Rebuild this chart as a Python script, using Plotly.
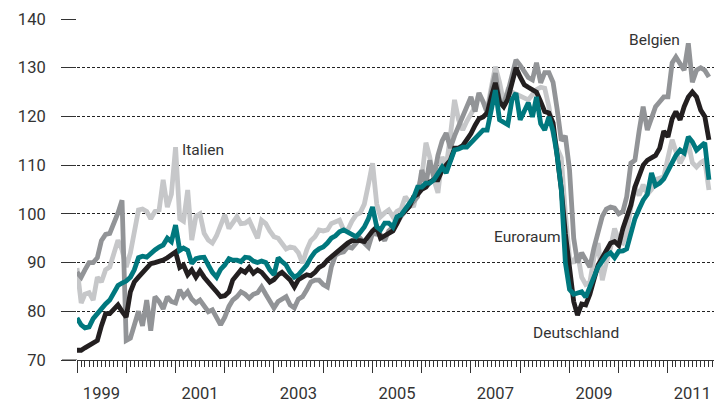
import pandas as pd
import plotly.graph_objects as go

# monthly index values, Jan 1999 - Nov 2011
months = pd.date_range("1999-01-01", periods=155, freq="MS")

deutschland = [
    72, 72, 72.5, 73, 73.5, 74, 77, 79.5, 79.5, 80.5, 81.3, 80,
    78.8, 84, 86, 87, 88, 89, 89.8, 90, 90.2, 90.5, 91, 91.5,
    92.2, 89, 89.5, 87.5, 88.5, 87, 88.3, 87, 85.8, 85, 84, 83,
    83.2, 84, 86.4, 87.5, 88.5, 88, 89, 87.8, 88.5, 88, 87, 86,
    86.5, 87.5, 88, 87, 86.4, 85, 86.5, 87, 87.5, 87.3, 88, 89,
    89.5, 90.5, 91.2, 92, 92.5, 93.5, 94, 94.5, 94.6, 94.5, 94.3, 95.5,
    96.5, 97.3, 95, 95.5, 96, 96.5, 98, 99.8, 100.6, 101.5, 103.5, 104,
    105, 105.5, 106.5, 107, 107, 109, 110, 111, 113.5, 113.5, 114, 115.2,
    116.5, 118.2, 119.5, 119.9, 120.7, 124, 126.9, 123, 122, 123.5, 127, 130,
    128.1, 126.5, 126, 125.5, 125, 123, 121, 120.7, 118.7, 112, 105, 96,
    89, 82, 79.2, 81.5, 81.3, 83.5, 86.5, 89.5, 91, 92.5, 94, 94.3,
    93.5, 97, 99.5, 101.8, 105.5, 108, 110, 111, 111.5, 112, 113.5, 117,
    115.8, 119.5, 121, 119.3, 122, 124, 125, 124, 121.3, 120, 115.2,
]

euroraum = [
    78.6, 77.2, 76.6, 76.8, 78.5, 79.6, 80.8, 81.5, 82.3, 84, 85.3, 85.8,
    86.2, 87, 88.5, 91, 91.3, 91.1, 92, 92.6, 93.2, 93.6, 95, 94.3,
    97.7, 92.5, 93, 92.5, 89.8, 90.8, 91, 91.1, 89.5, 88, 87, 88.6,
    89.5, 90.8, 90.5, 90.5, 90.2, 91.1, 91, 90.3, 90, 90.3, 90, 88.5,
    87.5, 91, 90.2, 89.5, 88, 87, 87.5, 88.5, 89.5, 91, 92.2, 92.8,
    93.2, 94, 95, 95.5, 96.3, 96.7, 96.2, 95.8, 95.3, 96.2, 97.3, 99,
    101.4, 97.3, 96.7, 98.1, 98.1, 97.3, 99.4, 99.8, 101, 102.5, 103.3, 105.5,
    105.5, 106.3, 106.3, 107, 108.5, 109.6, 108.4, 110.5, 113.1, 113.3, 113.7, 113.7,
    114.6, 115.5, 116.3, 117.2, 117.2, 121, 125.4, 119.3, 118.8, 118.3, 123.4, 124.8,
    119.3, 121, 122.8, 119.9, 124, 118.5, 117.2, 119.9, 117, 112, 105, 90,
    84.5, 83.5, 83.7, 84, 82.9, 85, 87.5, 89.1, 90.3, 91.5, 92, 91,
    92.3, 92.4, 92.8, 96, 99, 101, 102.8, 104, 108.4, 105.8, 106.3, 107.2,
    109, 110.5, 112, 113.1, 112.5, 115.8, 114.8, 113.1, 114, 114.6, 107,
]

belgien = [
    88, 87, 88.5, 90, 90, 91, 94.5, 95.8, 96, 97.8, 100.2, 102.8,
    74, 74.5, 77, 80, 77, 82.3, 76, 83, 82, 80.5, 83, 82,
    81.7, 84.4, 83, 84, 82.5, 81.7, 82.3, 81, 79.9, 80.3, 78.5, 77.2,
    78.8, 81, 82.3, 83, 84, 83.5, 82.7, 83.5, 83.8, 85, 83.5, 82.3,
    80.7, 82, 82.5, 83, 81.3, 80.7, 82.5, 83, 84.4, 86, 86.4, 86.4,
    85.5, 85, 89.1, 91.5, 92, 92.2, 93.2, 93, 94, 95, 94, 93.2,
    96, 95.8, 95.7, 94.5, 96.5, 97.3, 98.1, 99.5, 100.5, 101.2, 102.5, 103.5,
    109, 106, 111, 107.5, 112, 115, 116.6, 113.5, 116, 118, 119.9, 122,
    124, 121, 124.8, 123, 120.7, 125, 128.9, 123, 122.8, 125, 128.9, 131.6,
    130.5, 129, 128, 127.5, 131, 126.9, 129, 129, 127, 121.5, 115, 116,
    109, 95, 90, 92, 90.5, 89.1, 93, 96, 99.5, 101, 101.4, 101.2,
    100, 100.5, 103.5, 110.4, 111, 117, 122, 117.2, 120, 122, 123, 124,
    124, 131, 132.2, 131, 129.5, 135, 127, 129.5, 130, 129.5, 128.1,
]

italien = [
    88.9, 81.7, 83.5, 83.8, 82.3, 87, 86, 88.5, 89.1, 91.5, 94.6, 92.6,
    89.1, 92, 97, 100.8, 101, 100.5, 99, 100.5, 100.8, 107, 101.4, 104,
    113.7, 99, 98.5, 104.9, 94.6, 99.5, 100, 96, 94.6, 94, 95.5, 97.5,
    99.8, 97, 98, 99.4, 98, 98.1, 98.7, 96.7, 95, 98.7, 98, 96.5,
    95.3, 95, 94, 92.8, 93.2, 93, 92, 89.9, 92.6, 94.5, 95.3, 96.7,
    96.5, 96.7, 98, 98.3, 98.7, 96.7, 96.7, 98.5, 99.8, 100.2, 102, 106,
    110.4, 102, 99.4, 100.2, 100.8, 99.4, 100.5, 101, 103.5, 102.5, 101.4, 105,
    107.5, 114.6, 111.7, 107, 104.3, 111.7, 109.6, 116, 123.4, 119.3, 117.2, 119,
    120.7, 122, 124.8, 123, 121.3, 126, 130.2, 127, 122.8, 125.4, 125, 124.5,
    124, 123.8, 123.4, 124.5, 125.5, 126, 125.8, 122, 116.5, 113.5, 111.5, 100,
    91, 89.9, 92, 87, 85.5, 86, 91, 94, 86.4, 90, 93, 97,
    94.5, 94, 96, 101.4, 105.5, 103.8, 106, 104, 105, 107, 107.2, 107.6,
    111.5, 115.2, 112.8, 110.4, 112, 114.6, 110.5, 109.6, 110.5, 111, 104.9,
]

y_ticks = [70, 80, 90, 100, 110, 120, 130, 140]
label_years = [1999, 2001, 2003, 2005, 2007, 2009, 2011]
tick_years = list(range(1999, 2013))

series = [
    ("Italien", italien, "#c6c7c9"),
    ("Belgien", belgien, "#929497"),
    ("Deutschland", deutschland, "#231f20"),
    ("Euroraum", euroraum, "#00787e"),
]

fig = go.Figure()
for name, vals, color in series:
    fig.add_trace(go.Scatter(x=months, y=vals, mode="lines", name=name,
                             line=dict(color=color, width=4.8),
                             showlegend=False, hoverinfo="skip"))

# helper trace so the label axis gets drawn
fig.add_trace(go.Scatter(x=[f"{y}-07-01" for y in label_years],
                         y=[None] * len(label_years), xaxis="x2",
                         mode="lines", showlegend=False, hoverinfo="skip"))

font = "Roboto, Arial, sans-serif"
txt = "#333333"

labels = [
    ("Italien", "2001-07-22", 113.1),
    ("Belgien", "2010-09-22", 135.7),
    ("Euroraum", "2008-02-25", 95.3),
    ("Deutschland", "2009-02-15", 75.5),
]
for text, x, y in labels:
    fig.add_annotation(x=x, y=y, text=text, showarrow=False,
                       font=dict(family=font, size=15.5, color=txt))

# the x axis line runs on under the y ticks
fig.add_shape(type="line", xref="paper", yref="y", x0=-15 / 643, x1=0,
              y0=70, y1=70, line=dict(color="#333333", width=1))

# page body has an 8px margin, so the figure is a bit smaller than the window
fig.update_layout(
    width=714, height=395,
    margin=dict(l=69, r=2, t=11, b=43, autoexpand=False),
    paper_bgcolor="white", plot_bgcolor="white",
    xaxis=dict(
        type="date", range=["1999-01-01", "2012-01-22"], automargin=False,
        tickmode="array", tickvals=[f"{y}-01-01" for y in tick_years],
        ticks="outside", ticklen=12, tickcolor="#333333", tickwidth=1,
        showticklabels=False, showline=True, linecolor="#333333", linewidth=1,
        showgrid=False, zeroline=False,
        minor=dict(tickmode="linear", tick0="1999-01-01", dtick="M1",
                   ticks="outside", ticklen=6, tickcolor="#333333",
                   tickwidth=1, showgrid=False),
    ),
    xaxis2=dict(
        type="date", overlaying="x", matches="x", anchor="y", side="bottom",
        automargin=False,
        tickmode="array", tickvals=[f"{y}-07-01" for y in label_years],
        ticktext=[str(y) for y in label_years], ticks="",
        showline=False, showgrid=False, zeroline=False,
        ticklabelstandoff=21,
        tickfont=dict(family=font, size=16.5, color=txt),
    ),
    yaxis=dict(
        range=[70, 140], tickmode="array", tickvals=y_ticks, automargin=False,
        ticks="outside", ticklen=15, tickcolor="#333333", tickwidth=1,
        showgrid=True, gridcolor="#222222", gridwidth=1, griddash="3px,2px",
        zeroline=False, showline=False, ticklabelstandoff=12,
        tickfont=dict(family=font, size=16.5, color=txt),
    ),
)

fig.write_html("out.html")
